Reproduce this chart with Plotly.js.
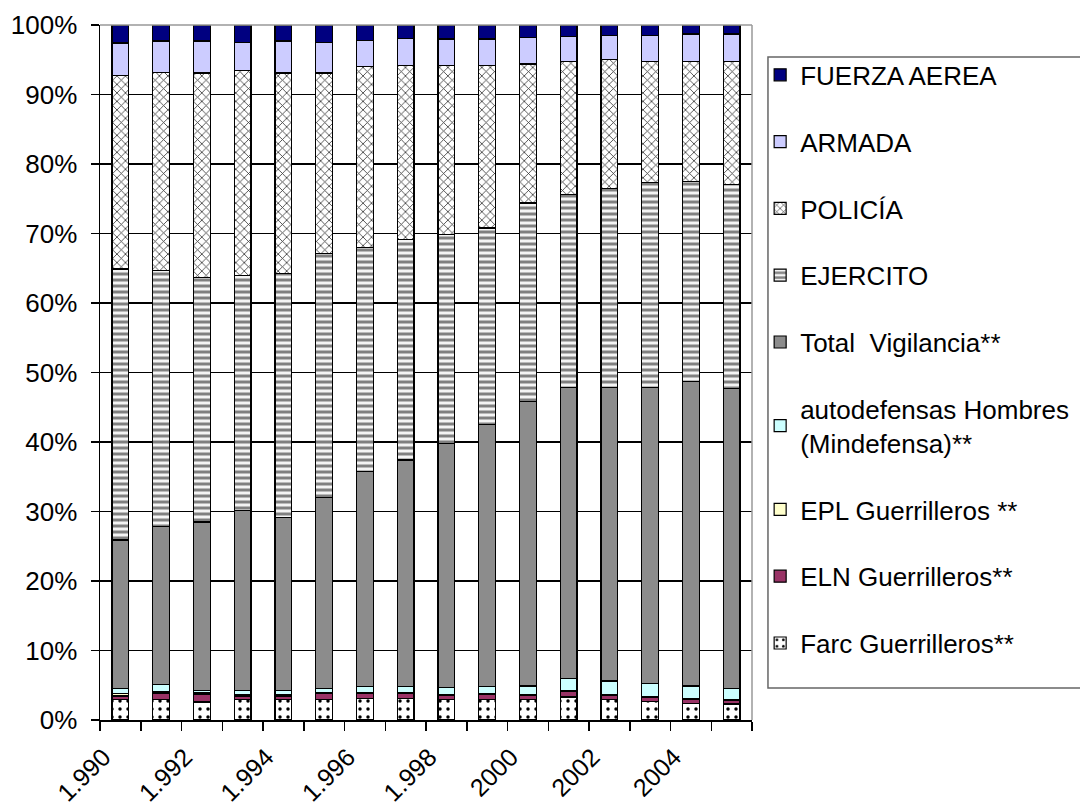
<!DOCTYPE html>
<html>
<head>
<meta charset="utf-8">
<script src="https://cdn.plot.ly/plotly-3.0.1.min.js"></script>
<style>html,body{margin:0;padding:0;background:#fff;}#chart{width:1080px;height:809px;}</style>
</head>
<body>
<div id="chart"></div>
<script>
var years = [1990,1991,1992,1993,1994,1995,1996,1997,1998,1999,2000,2001,2002,2003,2004,2005];
var tickYears = [1990,1992,1994,1996,1998,2000,2002,2004];
var tickLabels = ["1.990","1.992","1.994","1.996","1.998","2000","2002","2004"];
var yTicks = [0,10,20,30,40,50,60,70,80,90,100];
var yTickLabels = ["0%","10%","20%","30%","40%","50%","60%","70%","80%","90%","100%"];

var farc = [2.9,2.9,2.6,2.9,2.9,2.9,3.1,3.1,3.0,2.9,2.9,3.3,3.0,2.7,2.4,2.3];
var eln  = [0.55,1.0,1.1,0.55,0.55,1.0,0.8,0.7,0.6,0.8,0.6,0.8,0.6,0.6,0.6,0.5];
var epl  = [0.35,0.2,0.2,0.15,0.15,0.1,0.1,0.1,0.1,0.1,0.1,0.1,0.1,0.1,0.1,0.1];
var auto = [0.7,1.0,0.4,0.6,0.6,0.55,0.8,0.9,1.0,1.0,1.3,1.8,1.9,1.8,1.8,1.6];
var vigilancia = [21.4,22.7,24.2,25.9,24.9,27.45,31.0,32.6,35.1,37.7,40.9,41.9,42.3,42.7,43.8,43.2];
var ejercito = [39.0,36.9,35.2,33.9,35.2,35.1,32.2,31.7,30.1,28.3,28.6,27.7,28.6,29.4,28.8,29.4];
var policia = [27.8,28.5,29.4,29.4,28.8,26.0,26.0,25.1,24.3,23.4,20.0,19.2,18.5,17.5,17.3,17.7];
var armada = [4.7,4.5,4.6,4.1,4.6,4.4,3.8,3.9,3.8,3.8,3.8,3.5,3.5,3.7,3.9,3.9];
var fuerzaAerea = [2.6,2.3,2.3,2.5,2.3,2.5,2.2,1.9,2.0,2.0,1.8,1.7,1.5,1.5,1.3,1.3];

var seriesNames = ["Farc Guerrilleros**","ELN Guerrilleros**","EPL Guerrilleros **",
  "autodefensas Hombres<br>(Mindefensa)**","Total  Vigilancia**","EJERCITO","POLICÍA","ARMADA","FUERZA AEREA"];
var seriesValues = [farc, eln, epl, auto, vigilancia, ejercito, policia, armada, fuerzaAerea];
var seriesColors = ["#ffffff","#993366","#ffffcc","#ccffff","#8c8c8c","#ffffff","#ffffff","#ccccff","#000080"];
var seriesPatterns = [
  {shape:".", fgcolor:"#000000", bgcolor:"#ffffff", size:8, solidity:0.15},
  null, null, null, null,
  {shape:"-", fgcolor:"#808080", bgcolor:"#f4f4f4", size:6, solidity:0.5},
  {shape:"x", fgcolor:"#333333", bgcolor:"#ffffff", size:6, solidity:0.25},
  null, null
];

var traces = seriesNames.map(function(n,i){
  var m = {color: seriesColors[i], line:{color:"#000000", width:1.2}};
  if (seriesPatterns[i]) m.pattern = seriesPatterns[i];
  return {type:"bar", name:n, x:years, y:seriesValues[i], marker:m,
          legendgroup:"g"+i, legendrank:100-i, hoverinfo:"name+y"};
});

var boundaries = years.map(function(y){return y-0.5;}).concat([years[years.length-1]+0.5]);

var layout = {
  width:1080, height:809,
  margin:{l:100, r:328, t:25, b:89, autoexpand:false},
  paper_bgcolor:"#ffffff", plot_bgcolor:"#ffffff",
  barmode:"stack", barnorm:"percent", bargap:0.59,
  font:{family:"Liberation Sans, Arial, sans-serif", size:26, color:"#000"},
  xaxis:{range:[1989.5,2005.5], tickmode:"array", tickvals:tickYears, ticktext:tickLabels,
         tickangle:-45, ticks:"", showgrid:false, zeroline:false, automargin:false,
         showline:true, linecolor:"#000", linewidth:1.5, ticklabelstandoff:11, ticklabelshift:-17,
         tickfont:{size:25},
         minor:{tickmode:"array", tickvals:boundaries, ticks:"outside", ticklen:9,
                tickcolor:"#000", tickwidth:1.5, showgrid:false}},
  yaxis:{range:[0,100], tickmode:"array", tickvals:yTicks, ticktext:yTickLabels,
         ticks:"outside", ticklen:8, tickcolor:"#000", tickwidth:1.5, automargin:false,
         showgrid:true, gridcolor:"#000", gridwidth:1.2, zeroline:false,
         showline:true, linecolor:"#000", linewidth:1.5, ticklabelstandoff:8,
         tickfont:{size:26}},
  legend:{x:1.0125, xanchor:"left", y:0.962, yanchor:"top",
          traceorder:"grouped", tracegroupgap:30,
          borderwidth:0, bgcolor:"rgba(0,0,0,0)",
          font:{size:26}, itemclick:false},
  shapes:[
    {type:"line", xref:"paper", yref:"paper", x0:0, x1:1, y0:1, y1:1, line:{color:"#999", width:1.5}, layer:"above"},
    {type:"line", xref:"paper", yref:"paper", x0:1, x1:1, y0:0, y1:1, line:{color:"#999", width:1.5}, layer:"above"},
    {type:"rect", xref:"paper", yref:"paper", x0:1.0245, x1:1.52, y0:0.046, y1:0.954, line:{color:"#666", width:1.5}, fillcolor:"rgba(0,0,0,0)", layer:"below"}
  ],
  showlegend:true
};

Plotly.newPlot("chart", traces, layout, {displayModeBar:false, staticPlot:true});
</script>
</body>
</html>
